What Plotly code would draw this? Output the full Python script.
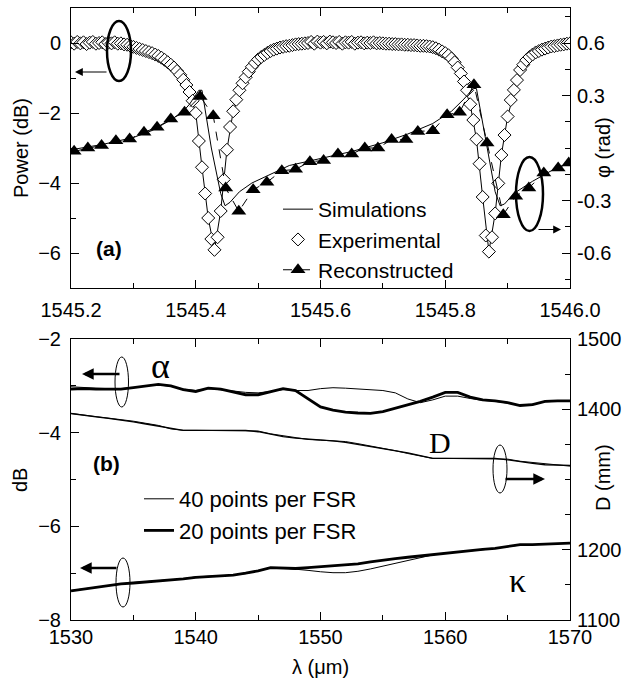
import plotly.graph_objects as go

# ---------------- panel (a) data ----------------
exp_wl = [
    1545.200, 1545.205, 1545.210, 1545.215, 1545.220, 1545.225, 1545.230, 1545.235, 1545.240, 1545.245,
    1545.250, 1545.255, 1545.260, 1545.265, 1545.270, 1545.275, 1545.280, 1545.285, 1545.290, 1545.295,
    1545.300, 1545.305, 1545.310, 1545.315, 1545.320, 1545.325, 1545.330, 1545.335, 1545.340, 1545.345,
    1545.350, 1545.355, 1545.360, 1545.365, 1545.370, 1545.375, 1545.380, 1545.385, 1545.390, 1545.395,
    1545.400, 1545.405, 1545.410, 1545.415, 1545.420, 1545.425, 1545.430, 1545.435, 1545.440, 1545.445,
    1545.450, 1545.455, 1545.460, 1545.465, 1545.470, 1545.475, 1545.480, 1545.485, 1545.490, 1545.495,
    1545.500, 1545.505, 1545.510, 1545.515, 1545.520, 1545.525, 1545.530, 1545.535, 1545.540, 1545.545,
    1545.550, 1545.555, 1545.560, 1545.565, 1545.570, 1545.575, 1545.580, 1545.585, 1545.590, 1545.595,
    1545.600, 1545.605, 1545.610, 1545.615, 1545.620, 1545.625, 1545.630, 1545.635, 1545.640, 1545.645,
    1545.650, 1545.655, 1545.660, 1545.665, 1545.670, 1545.675, 1545.680, 1545.685, 1545.690, 1545.695,
    1545.700, 1545.705, 1545.710, 1545.715, 1545.720, 1545.725, 1545.730, 1545.735, 1545.740, 1545.745,
    1545.750, 1545.755, 1545.760, 1545.765, 1545.770, 1545.775, 1545.780, 1545.785, 1545.790, 1545.795,
    1545.800, 1545.805, 1545.810, 1545.815, 1545.820, 1545.825, 1545.830, 1545.835, 1545.840, 1545.845,
    1545.850, 1545.855, 1545.860, 1545.865, 1545.870, 1545.875, 1545.880, 1545.885, 1545.890, 1545.895,
    1545.900, 1545.905, 1545.910, 1545.915, 1545.920, 1545.925, 1545.930, 1545.935, 1545.940, 1545.945,
    1545.950, 1545.955, 1545.960, 1545.965, 1545.970, 1545.975, 1545.980, 1545.985, 1545.990, 1545.995,
    1546.000]
exp_power = [
    0.02, -0.02, 0.03, -0.01, 0.02, -0.03, 0.01, 0.03, -0.02, 0.00,
    0.02, -0.03, 0.01, -0.01, 0.02, -0.02, -0.01, -0.04, -0.05, -0.08,
    -0.11, -0.14, -0.17, -0.20, -0.23, -0.26, -0.29, -0.33, -0.37, -0.42,
    -0.48, -0.55, -0.62, -0.70, -0.80, -0.91, -1.05, -1.20, -1.40, -1.65,
    -2.00, -2.80, -3.55, -4.30, -5.00, -5.60, -5.91, -5.55, -4.80, -3.90,
    -3.05, -2.40, -1.95, -1.62, -1.35, -1.15, -0.98, -0.82, -0.68, -0.57,
    -0.47, -0.40, -0.34, -0.28, -0.23, -0.19, -0.16, -0.13, -0.11, -0.09,
    -0.08, -0.06, -0.04, -0.03, -0.02, -0.01, 0.00, 0.03, -0.02, 0.04,
    0.01, 0.03, -0.01, 0.04, 0.02, 0.00, 0.03, -0.02, 0.02, 0.01,
    0.03, -0.02, 0.01, 0.02, -0.01, 0.01, 0.00, 0.02, -0.01, 0.00,
    -0.01, -0.02, -0.02, -0.03, -0.03, -0.04, -0.04, -0.05, -0.05, -0.06,
    -0.06, -0.07, -0.08, -0.08, -0.09, -0.10, -0.12, -0.15, -0.19, -0.24,
    -0.29, -0.35, -0.44, -0.55, -0.70, -0.87, -1.10, -1.35, -1.75, -2.20,
    -2.75, -3.45, -4.40, -5.50, -5.96, -5.55, -4.87, -4.01, -3.20, -2.63,
    -2.10, -1.63, -1.34, -1.06, -0.77, -0.62, -0.49, -0.40, -0.33, -0.27,
    -0.23, -0.19, -0.16, -0.13, -0.10, -0.09, -0.07, -0.05, -0.04, -0.02,
    -0.01]

sim_power_wl = [1545.20, 1545.30, 1545.34, 1545.37, 1545.39, 1545.40, 1545.41, 1545.42, 1545.43,
                1545.44, 1545.45, 1545.46, 1545.48, 1545.50, 1545.55, 1545.60, 1545.70, 1545.78,
                1545.80, 1545.82, 1545.84, 1545.85, 1545.86, 1545.87, 1545.88, 1545.89, 1545.90,
                1545.92, 1545.95, 1546.00]
sim_power = [0.00, -0.11, -0.37, -0.80, -1.40, -2.00, -3.55, -5.00, -5.91,
             -4.80, -3.05, -1.95, -0.98, -0.47, -0.08, 0.00, -0.01, -0.12,
             -0.29, -0.70, -1.75, -2.75, -4.40, -5.96, -4.87, -3.20, -2.10,
             -0.77, -0.23, -0.01]

sim_phase_wl = [1545.20, 1545.25, 1545.30, 1545.33, 1545.36, 1545.38, 1545.39, 1545.40, 1545.405,
                1545.41, 1545.425, 1545.44, 1545.447, 1545.455, 1545.47, 1545.49, 1545.52, 1545.55,
                1545.60, 1545.65, 1545.70, 1545.74, 1545.78, 1545.81, 1545.83, 1545.845, 1545.85,
                1545.865, 1545.88, 1545.888, 1545.895, 1545.91, 1545.94, 1545.97, 1546.00]
sim_phase = [-0.01, 0.02, 0.06, 0.10, 0.16, 0.21, 0.25, 0.30, 0.33,
             0.33, 0.00, -0.26, -0.33, -0.31, -0.25, -0.20, -0.15, -0.10,
             -0.06, -0.02, 0.03, 0.08, 0.14, 0.21, 0.28, 0.34, 0.34,
             0.05, -0.25, -0.33, -0.32, -0.26, -0.19, -0.13, -0.08]

rec_wl = [1545.205, 1545.227, 1545.249, 1545.272, 1545.294, 1545.317, 1545.338, 1545.360, 1545.382,
          1545.407, 1545.428, 1545.448, 1545.469, 1545.492, 1545.514, 1545.538, 1545.560, 1545.583,
          1545.605, 1545.628, 1545.650, 1545.671, 1545.692, 1545.714, 1545.737, 1545.756, 1545.780,
          1545.803, 1545.823, 1545.846, 1545.867, 1545.893, 1545.913, 1545.934, 1545.958, 1545.981,
          1545.998]
rec_phase = [-0.019, 0.000, 0.015, 0.042, 0.051, 0.090, 0.118, 0.166, 0.204,
             0.295, 0.185, -0.229, -0.362, -0.238, -0.196, -0.130, -0.122, -0.078,
             -0.072, -0.034, -0.034, 0.000, 0.000, 0.048, 0.048, 0.095, 0.099,
             0.190, 0.204, 0.362, 0.029, -0.381, -0.276, -0.229, -0.143, -0.114,
             -0.086]

# ---------------- panel (b) data ----------------
wl_b = [1530, 1531, 1532, 1533, 1534, 1535, 1536, 1537, 1538, 1539,
        1540, 1541, 1542, 1543, 1544, 1545, 1546, 1547, 1548, 1549,
        1550, 1551, 1552, 1553, 1554, 1555, 1556, 1557, 1558, 1559,
        1560, 1561, 1562, 1563, 1564, 1565, 1566, 1567, 1568, 1569, 1570]
alpha_20 = [-3.07, -3.06, -3.07, -3.07, -3.07, -3.04, -3.00, -2.97, -3.00, -3.08,
            -3.12, -3.05, -3.07, -3.13, -3.19, -3.19, -3.13, -3.06, -3.10, -3.28,
            -3.45, -3.52, -3.56, -3.58, -3.59, -3.55, -3.48, -3.40, -3.33, -3.24,
            -3.14, -3.14, -3.24, -3.30, -3.32, -3.36, -3.42, -3.40, -3.33, -3.32, -3.32]
alpha_40 = [-3.02, -3.04, -3.05, -3.06, -3.06, -3.04, -3.00, -2.98, -3.01, -3.07,
            -3.10, -3.06, -3.08, -3.11, -3.14, -3.15, -3.12, -3.08, -3.10, -3.10,
            -3.06, -3.04, -3.05, -3.07, -3.08, -3.10, -3.15, -3.28, -3.36, -3.30,
            -3.22, -3.22, -3.27, -3.31, -3.33, -3.37, -3.41, -3.39, -3.34, -3.33, -3.33]
D_20 = [1394, 1391, 1389, 1387, 1385, 1382, 1379, 1376, 1373, 1370,
        1370, 1370, 1370, 1370, 1370, 1368, 1364, 1361, 1359, 1358,
        1357, 1355, 1353, 1350, 1347, 1345, 1342, 1338, 1334, 1330,
        1330, 1330, 1330, 1330, 1330, 1328, 1325, 1323, 1321, 1320, 1320]
D_40 = [1394, 1392, 1390, 1388, 1385, 1383, 1380, 1377, 1372, 1370,
        1370, 1370, 1370, 1370, 1370, 1369, 1365, 1362, 1359, 1357,
        1356, 1355, 1354, 1351, 1348, 1344, 1341, 1337, 1333, 1330,
        1330, 1330, 1330, 1330, 1330, 1329, 1326, 1324, 1322, 1320, 1319]
kappa_20 = [-7.38, -7.34, -7.30, -7.26, -7.23, -7.21, -7.19, -7.16, -7.14, -7.12,
            -7.09, -7.07, -7.06, -7.04, -7.00, -6.95, -6.88, -6.89, -6.90, -6.88,
            -6.86, -6.85, -6.83, -6.80, -6.76, -6.72, -6.69, -6.66, -6.63, -6.60,
            -6.57, -6.54, -6.52, -6.49, -6.47, -6.43, -6.39, -6.39, -6.38, -6.37, -6.36]
kappa_40 = [-7.37, -7.33, -7.30, -7.27, -7.23, -7.20, -7.18, -7.16, -7.15, -7.12,
            -7.08, -7.07, -7.05, -7.04, -7.01, -6.95, -6.89, -6.89, -6.91, -6.94,
            -6.97, -6.99, -6.99, -6.96, -6.91, -6.85, -6.79, -6.73, -6.67, -6.61,
            -6.57, -6.55, -6.52, -6.50, -6.47, -6.43, -6.40, -6.39, -6.38, -6.37, -6.36]

FONT = "Liberation Sans, Arial, Helvetica, sans-serif"
SERIF = "Liberation Serif, Times New Roman, serif"
FS = 20

W, H = 628, 681
L, R, T, B = 71, 570, 8, 620  # plot-area pixel box


def px(x):
    return (x - L) / (R - L)


def py(y):
    return (B - y) / (B - T)


fig = go.Figure()

# panel (a)
fig.add_trace(go.Scatter(x=sim_power_wl, y=sim_power, mode="lines", name="Simulations",
                         line=dict(color="black", width=1), xaxis="x2", yaxis="y3", legend="legend"))
fig.add_trace(go.Scatter(x=exp_wl, y=exp_power, mode="markers", name="Experimental",
                         marker=dict(symbol="diamond", size=10, color="white",
                                     line=dict(color="black", width=1)),
                         xaxis="x2", yaxis="y3", legend="legend"))
fig.add_trace(go.Scatter(x=sim_phase_wl, y=sim_phase, mode="lines", showlegend=False,
                         line=dict(color="black", width=1), xaxis="x2", yaxis="y4"))
fig.add_trace(go.Scatter(x=rec_wl, y=rec_phase, mode="lines+markers", name="Reconstructed",
                         line=dict(color="black", width=1, dash="dash"),
                         marker=dict(symbol="triangle-up", size=13, color="black"),
                         xaxis="x2", yaxis="y4", legend="legend"))

# panel (b)
fig.add_trace(go.Scatter(x=wl_b, y=alpha_40, mode="lines", name="40 points per FSR",
                         line=dict(color="black", width=1), xaxis="x", yaxis="y", legend="legend2"))
fig.add_trace(go.Scatter(x=wl_b, y=alpha_20, mode="lines", name="20 points per FSR",
                         line=dict(color="black", width=2.8), xaxis="x", yaxis="y", legend="legend2"))
fig.add_trace(go.Scatter(x=wl_b, y=kappa_40, mode="lines", showlegend=False,
                         line=dict(color="black", width=1), xaxis="x", yaxis="y"))
fig.add_trace(go.Scatter(x=wl_b, y=kappa_20, mode="lines", showlegend=False,
                         line=dict(color="black", width=2.8), xaxis="x", yaxis="y"))
fig.add_trace(go.Scatter(x=wl_b, y=D_40, mode="lines", showlegend=False,
                         line=dict(color="black", width=1), xaxis="x", yaxis="y2"))
fig.add_trace(go.Scatter(x=wl_b, y=D_20, mode="lines", showlegend=False,
                         line=dict(color="black", width=1.3), xaxis="x", yaxis="y2"))

tickfont = dict(family=FONT, size=FS, color="black")
common = dict(showline=True, linecolor="black", linewidth=1, ticks="inside", tickcolor="black",
              ticklen=8, tickwidth=1, showgrid=False, zeroline=False, tickfont=tickfont)

top_lo = py(288)
bot_hi = py(339)

fig.update_layout(
    width=W, height=H,
    margin=dict(l=L, r=W - R, t=T, b=H - B, autoexpand=False),
    paper_bgcolor="white", plot_bgcolor="white",
    font=dict(family=FONT, size=FS, color="black"),
    xaxis=dict(domain=[0, 1], anchor="y", range=[1530, 1570], dtick=10, tick0=1530,
               mirror="ticks", minor=dict(dtick=5, ticks="inside", ticklen=5, tickcolor="black"),
               ticklabelstandoff=-1, **common),
    yaxis=dict(domain=[0, bot_hi], anchor="x", range=[-8, -2], tickvals=[-8, -6, -4, -2],
               minor=dict(dtick=1, ticks="inside", ticklen=5, tickcolor="black"),
               ticklabelstandoff=5, **common),
    yaxis2=dict(overlaying="y", side="right", anchor="x", range=[1100, 1500],
                tickvals=[1100, 1200, 1400, 1500],
                minor=dict(dtick=50, ticks="inside", ticklen=5, tickcolor="black"),
                ticklabelstandoff=2, **common),
    xaxis2=dict(domain=[0, 1], anchor="y3", range=[1545.2, 1546.0], dtick=0.2, tick0=1545.2,
                tickformat=".1f", mirror="ticks",
                minor=dict(dtick=0.1, ticks="inside", ticklen=5, tickcolor="black"),
                ticklabelstandoff=4, **common),
    yaxis3=dict(domain=[top_lo, 1], anchor="x2", range=[-7, 1], tickvals=[-6, -4, -2, 0],
                minor=dict(dtick=1, ticks="inside", ticklen=5, tickcolor="black"),
                ticklabelstandoff=5, **common),
    yaxis4=dict(overlaying="y3", side="right", anchor="x2", range=[-0.8, 0.8],
                tickvals=[-0.6, -0.3, 0.3, 0.6], ticktext=["-0.6", "-0.3", "0.3", "0.6"],
                minor=dict(dtick=0.15, tick0=0, ticks="inside", ticklen=5, tickcolor="black"),
                ticklabelstandoff=2, **common),
    legend=dict(x=px(278), y=py(189), xanchor="left", yanchor="top", bgcolor="rgba(0,0,0,0)",
                font=dict(family=FONT, size=21, color="black"), tracegroupgap=0,
                itemwidth=30, traceorder="normal"),
    legend2=dict(x=px(139), y=py(478), xanchor="left", yanchor="top", bgcolor="rgba(0,0,0,0)",
                 font=dict(family=FONT, size=22, color="black"), tracegroupgap=0,
                 itemwidth=30, traceorder="normal"),
)

# ellipses (paper coordinates from pixel boxes)
ellipses = [  # x0, x1, y0, y1 (pixels), width
    (107, 131, 21, 81, 2.5),
    (516, 543, 157, 231, 2.5),
    (115, 128.5, 357, 407, 1),
    (493, 507, 445, 493, 1),
    (116, 130, 558, 607, 1),
]
for x0, x1, y0, y1, w in ellipses:
    fig.add_shape(type="circle", xref="paper", yref="paper",
                  x0=px(x0), x1=px(x1), y0=py(y1), y1=py(y0),
                  line=dict(color="black", width=w))

# arrows: (tail_x, tail_y, head_x, head_y, width, size)
arrows = [
    (108, 72, 75, 72, 1.2, 1.3),
    (537, 229.5, 561, 229.5, 1.2, 1.3),
    (121, 374, 82, 374, 2.6, 0.9),
    (504, 479, 545, 479, 2.6, 0.9),
    (118, 568, 80, 568, 2.6, 0.9),
]
for tx, ty, hx, hy, w, s in arrows:
    fig.add_annotation(x=px(hx), y=py(hy), xref="paper", yref="paper", text="",
                       showarrow=True, ax=tx - hx, ay=ty - hy, axref="pixel", ayref="pixel",
                       arrowhead=2, arrowsize=s, arrowwidth=w, arrowcolor="black", standoff=0)

# text labels
labels = [
    ("<b>(a)</b>", 109, 248, FONT, 21, 0),
    ("<b>(b)</b>", 106, 463, FONT, 21, 0),
    ("α", 160, 366, SERIF, 36, 0),
    ("D", 440, 443, SERIF, 30, 0),
    ("κ", 517, 580, SERIF, 34, 0),
    ("Power (dB)", 21, 148, FONT, FS, -90),
    ("φ (rad)", 603, 148, FONT, FS, -90),
    ("dB", 20, 480, FONT, FS, -90),
    ("D (mm)", 603, 478, FONT, FS, -90),
    ("λ (μm)", 320, 667, FONT, FS, 0),
]
for txt, x, y, fam, size, ang in labels:
    fig.add_annotation(x=px(x), y=py(y), xref="paper", yref="paper", text=txt, showarrow=False,
                       xanchor="center", yanchor="middle", textangle=ang,
                       font=dict(family=fam, size=size, color="black"))

fig.write_html("out.html", config={"displayModeBar": False},
               post_script="document.body.style.margin='0';")
